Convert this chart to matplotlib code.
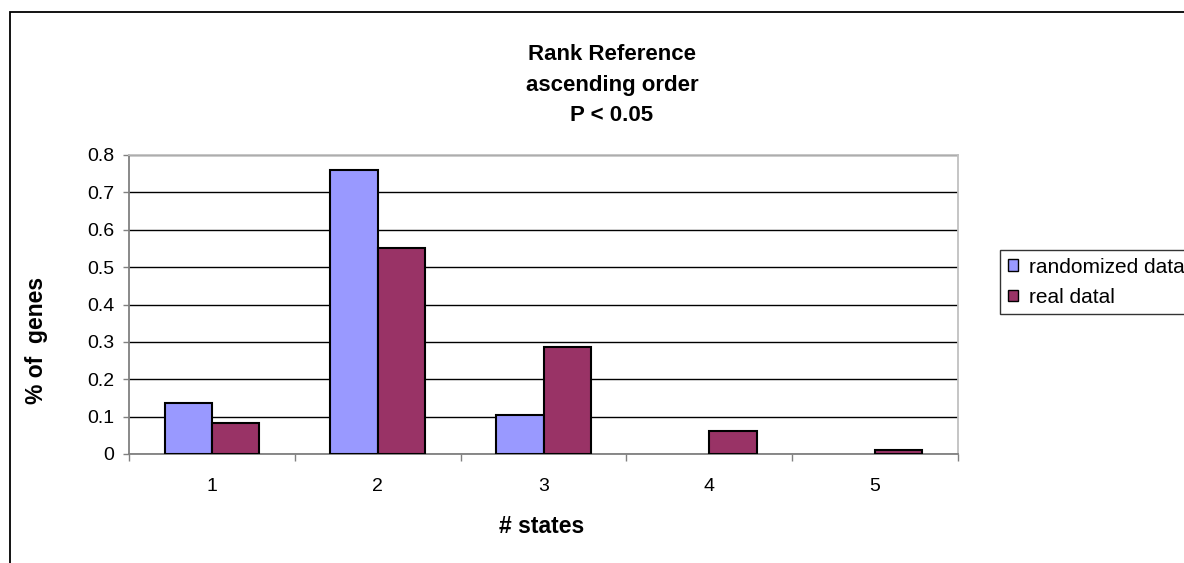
import matplotlib
matplotlib.use('Agg')
import matplotlib.pyplot as plt
from matplotlib.patches import Rectangle
import numpy as np

states = ['1', '2', '3', '4', '5']
randomized = [0.136, 0.760, 0.104, 0.0, 0.0]
real = [0.084, 0.552, 0.286, 0.062, 0.010]
yticks = [0, 0.1, 0.2, 0.3, 0.4, 0.5, 0.6, 0.7, 0.8]
title_lines = ['Rank Reference', 'ascending order', 'P < 0.05']

plt.rcParams['font.family'] = ['Liberation Sans', 'DejaVu Sans']

W, H = 1184, 563
fig = plt.figure(figsize=(W / 100, H / 100), dpi=100)
# plot area in pixels: left 129, right 958, top 155, bottom 454
ax = fig.add_axes([129 / W, 1 - 454 / H, (958 - 129) / W, (454 - 155) / H])

# outer chart border
fig.patches.append(Rectangle((10 / W, -0.1), 1.2, 1 - 12 / H + 0.1, transform=fig.transFigure,
                             fill=False, edgecolor='black', linewidth=1.3))

x = np.arange(len(states))
w = 1 / 3.5
# empty categories get no outline
ax.bar(x - w / 2, randomized, w, color='#9999FF', edgecolor='black',
       linewidth=[1.5 if v > 0 else 0 for v in randomized], label='randomized data', zorder=3)
ax.bar(x + w / 2, real, w, color='#993366', edgecolor='black',
       linewidth=[1.5 if v > 0 else 0 for v in real], label='real datal', zorder=3)

ax.set_xlim(-0.5, len(states) - 0.5)
ax.set_ylim(0, 0.8)
ax.set_yticks(yticks)
ax.set_yticklabels(['0' if v == 0 else f'{v:.1f}' for v in yticks], fontsize=14)
ax.yaxis.grid(True, color='black', linewidth=1)
ax.set_axisbelow(True)

ax.set_xticks(x)
ax.set_xticklabels(states, fontsize=14)
ax.set_xticks(np.arange(-0.5, len(states)), minor=True)
ax.tick_params(axis='x', which='major', length=0, pad=17)
ax.tick_params(axis='x', which='minor', length=5, width=1, color='#808080')
ax.tick_params(axis='y', length=4, width=1, color='#808080', pad=6.5)

for s in ['left', 'bottom']:
    ax.spines[s].set_color('#808080')
    ax.spines[s].set_linewidth(1.3)
for s in ['top', 'right']:
    ax.spines[s].set_color('#C0C0C0')
    ax.spines[s].set_linewidth(1.3)

# three-line bold title, one text per baseline
for line, base in zip(title_lines, [60, 91, 121]):
    fig.text(612 / W, 1 - base / H, line, ha='center', va='baseline',
             fontsize=16, fontweight='bold')
fig.text(542 / W, 1 - 533 / H, '# states', ha='center', va='baseline',
         fontsize=16.5, fontweight='bold')
fig.text(37 / W, 1 - 340 / H, '% of  genes', ha='center', va='center', rotation=90,
         fontsize=16.5, fontweight='bold')

leg = fig.legend(loc='upper left', bbox_to_anchor=(1000 / W, 1 - 250 / H), fontsize=15,
                 frameon=True, fancybox=False, handlelength=0.48, handleheight=0.48,
                 handletextpad=0.53, borderpad=0.37, labelspacing=0.53, borderaxespad=0)
leg.get_frame().set_edgecolor('black')
leg.get_frame().set_linewidth(1)
for h in leg.legend_handles:
    h.set_linewidth(1)

fig.savefig('out.png', dpi=100)
